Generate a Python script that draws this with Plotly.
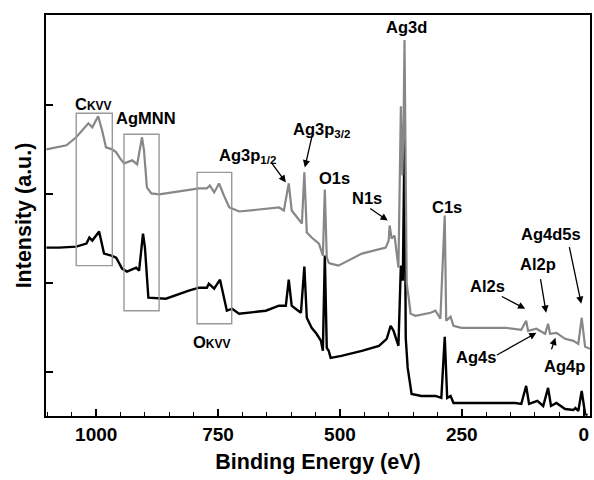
import plotly.graph_objects as go

# XPS survey spectra: binding energy (eV) vs intensity (a.u.)
# Upper (grey) spectrum
grey_be = [1102, 1061, 1041, 1020, 1016, 1008, 996, 988, 980, 967, 959, 951, 943, 926, 916,
           906, 902, 896, 887, 871, 830, 789, 773, 767, 758, 748, 738, 727, 721, 707, 666,
           625, 615, 605, 599, 588, 578, 573, 568, 558, 543, 535, 531, 527, 523, 519, 503,
           455, 406, 400, 398, 394, 388, 380, 375, 372, 369.5, 367.5, 365, 363, 359, 355,
           345, 314, 304, 294, 285, 282, 273, 267, 251, 161, 128, 118, 114, 97, 79, 73, 69,
           56, 38, 21, 11, 4, -3, -13]
grey_int = [266, 270, 278, 290, 292, 288, 299, 285, 268, 266, 263, 257, 252, 255, 251,
            278, 265, 228, 222, 221, 224, 227, 227, 230, 223, 232, 220, 208, 207, 204, 206,
            208, 205, 232, 205, 198, 192, 243, 183, 178, 172, 160, 226, 158, 153, 152, 150,
            162, 168, 175, 190, 177, 180, 148, 309, 240, 290, 375, 250, 132, 118, 102,
            100, 103, 105, 97, 200, 95, 99, 90, 88, 88, 86, 95, 85, 87, 82, 92, 82,
            83, 77, 75, 72, 98, 69, 67]

# Lower (black) spectrum
black_be = [1102, 1076, 1041, 1020, 1014, 1008, 994, 984, 969, 959, 947, 937, 918, 912,
            904, 900, 893, 871, 857, 810, 789, 773, 769, 758, 746, 732, 721, 707, 652, 625,
            611, 605, 599, 591, 580, 573, 568, 558, 548, 539, 535, 531, 527, 523, 519, 497,
            455, 420, 404, 396, 390, 380, 375, 371, 367.5, 365, 361, 357, 353, 333, 304, 292,
            285, 280, 273, 267, 251, 140, 128, 118, 112, 95, 83, 73, 67, 56, 38, 21, 17, 11,
            4, -3, -8]
black_int = [168, 168, 169, 172, 178, 175, 184, 162, 160, 158, 147, 144, 148, 145,
             182, 168, 118, 117, 117, 125, 128, 128, 132, 127, 136, 105, 107, 102, 105, 110,
             110, 136, 110, 107, 103, 149, 98, 88, 82, 75, 65, 160, 68, 65, 58, 60,
             65, 70, 77, 90, 85, 70, 150, 135, 280, 78, 48, 35, 22, 20, 20, 18,
             79, 18, 20, 13, 13, 13, 12, 30, 12, 15, 10, 28, 10, 13, 7, 6, 8, 5,
             25, 2, 1]

# Peak labels: (text, BE, intensity)
peak_labels = [
    ("C<span style='font-size:12px'>KVV</span>", 1006, 311),
    ("AgMNN", 898, 297),
    ("Ag3p<sub>1/2</sub>", 689, 259),
    ("Ag3p<sub>3/2</sub>", 537, 285),
    ("O1s", 511, 237),
    ("N1s", 445, 217),
    ("C1s", 281, 208),
    ("Ag3d", 364, 388),
    ("Ag4d5s", 67, 182),
    ("Al2p", 93, 152),
    ("Al2s", 198, 130),
    ("Ag4s", 220, 59),
    ("Ag4p", 40, 50),
    ("O<span style='font-size:12px'>KVV</span>", 762, 74),
]

# Arrows: (tail BE, tail int, head BE, head int)
arrows = [
    (641, 253, 611, 233),
    (556, 282, 572, 248),
    (441, 208, 402, 195),
    (30, 170, 5, 112),
    (89, 138, 77, 103),
    (171, 120, 120, 107),
    (181, 60, 97, 83),
    (67, 65, 58, 78),
]

# Auger regions: (BE high, BE low, int low, int high)
auger_boxes = [
    (1041, 967, 150, 302),
    (943, 871, 105, 281),
    (793, 722, 92, 243),
]

FONT = "Liberation Sans, Arial, sans-serif"

fig = go.Figure()
fig.add_trace(go.Scatter(x=black_be, y=black_int, mode="lines",
                         line=dict(color="#000000", width=2.4), showlegend=False))
fig.add_trace(go.Scatter(x=grey_be, y=grey_int, mode="lines",
                         line=dict(color="#878787", width=2.2), showlegend=False))

for x0, x1, y0, y1 in auger_boxes:
    fig.add_shape(type="rect", x0=x0, x1=x1, y0=y0, y1=y1, xref="x", yref="y",
                  line=dict(color="#9a9a9a", width=1.4), fillcolor="rgba(0,0,0,0)")

for txt, bx, iy in peak_labels:
    fig.add_annotation(x=bx, y=iy, text=txt, showarrow=False, xref="x", yref="y",
                       font=dict(family=FONT, size=16.5, color="black", weight="bold"))

for tx, ty, hx, hy in arrows:
    fig.add_annotation(x=hx, y=hy, ax=tx, ay=ty, axref="x", ayref="y", xref="x", yref="y",
                       text="", showarrow=True, arrowhead=2, arrowsize=1.1, arrowwidth=1.3,
                       arrowcolor="black", standoff=0, startstandoff=0)

fig.update_layout(
    width=594, height=480,
    margin=dict(l=46, r=2, t=15, b=64),
    plot_bgcolor="white", paper_bgcolor="white",
    font=dict(family=FONT, color="black"),
    xaxis=dict(
        range=[1103, -13], showgrid=False, zeroline=False,
        showline=True, linecolor="black", linewidth=2, mirror=True,
        ticks="inside", ticklen=7, tickwidth=1.6, tickcolor="black",
        tick0=0, dtick=250,
        minor=dict(dtick=50, ticks="inside", ticklen=4, tickwidth=1.4, tickcolor="black"),
        tickfont=dict(family=FONT, size=19, weight="bold"),
        title=dict(text="Binding Energy (eV)", standoff=10,
                   font=dict(family=FONT, size=21.5, weight="bold")),
    ),
    yaxis=dict(
        range=[0, 400], showgrid=False, zeroline=False,
        showline=True, linecolor="black", linewidth=2, mirror=True,
        ticks="inside", ticklen=7, tickwidth=1.6, tickcolor="black",
        tick0=43.5, dtick=89, showticklabels=False,
        title=dict(text="Intensity (a.u.)", standoff=6,
                   font=dict(family=FONT, size=21.5, weight="bold")),
    ),
)

fig.write_html("out.html")
